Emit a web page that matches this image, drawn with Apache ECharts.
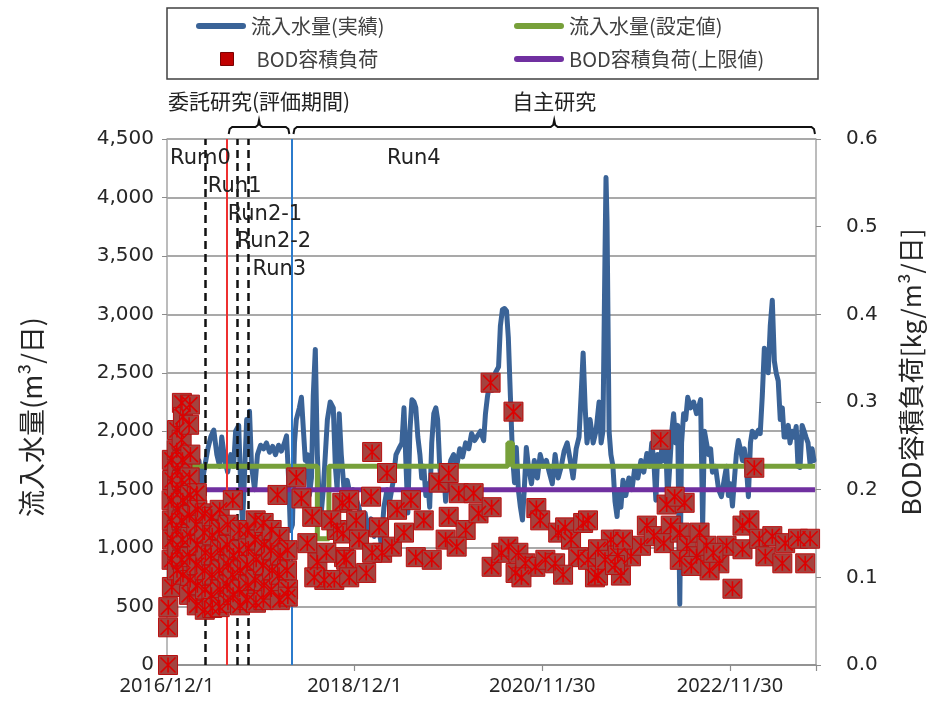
<!DOCTYPE html>
<html><head><meta charset="utf-8">
<script src="https://cdn.jsdelivr.net/npm/echarts@6/dist/echarts.min.js"></script>
<style>html,body{margin:0;padding:0;background:#fff}#c{width:932px;height:707px}</style>
</head><body><div id="c"></div>
<script>
// x values are days counted from 2016/12/1 (day 0)
const startDate = '2016/12/1';
const xTickLabels = ['2016/12/1', '2018/12/1', '2020/11/30', '2022/11/30'];
const xTickStep = 730;
const xMaxDay = 2525;
const leftAxisMax = 4500, leftAxisStep = 500;
const rightAxisMax = 0.6, rightAxisStep = 0.1;

const seriesNames = ['流入水量(実績)', '流入水量(設定値)', 'BOD容積負荷', 'BOD容積負荷(上限値)'];

// 流入水量(実績) [day, m3/day]
const flowActual = [
[112,1600],[124,1750],[136,1550],[147,1700],[159,1850],[170,1950],[182,2010],[194,1800],[205,1700],[213,1950],
[225,1750],[236,1650],[248,1800],[259,1700],[267,2000],[279,2050],[287,1500],[294,1200],[302,1650],[310,2100],
[318,1800],[321,2170],[329,1700],[341,1500],[352,1800],[364,1880],[376,1850],[387,1900],[399,1820],[411,1870],
[422,1800],[434,1880],[445,1830],[457,1900],[465,1960],[473,1600],[480,1150],[488,1200],[496,1900],[503,2100],
[515,2200],[523,2290],[531,2000],[538,1750],[546,1800],[554,1450],[562,1600],[569,2300],[577,2700],[585,1800],
[593,1350],[600,1300],[608,1500],[616,1800],[624,2100],[635,2250],[647,2200],[655,1700],[662,1500],[670,2150],
[678,1800],[689,1500],[701,1580],[713,1450],[724,1500],[736,1420],[747,1350],[759,1200],[771,1300],[782,1150],
[794,1250],[806,1100],[817,1200],[825,1150],[833,1040],[844,1350],[856,1500],[868,1420],[879,1560],[891,1800],
[902,1850],[914,1900],[922,2200],[930,1700],[937,1300],[945,2000],[953,2270],[961,2250],[968,2200],[976,1950],
[984,1800],[991,1600],[999,1700],[1007,1450],[1015,1550],[1022,1350],[1030,1900],[1038,2150],[1046,2200],[1053,2100],
[1061,1700],[1069,1500],[1077,1650],[1084,1400],[1092,1600],[1104,1750],[1115,1800],[1127,1700],[1139,1850],[1150,1780],
[1162,1900],[1174,1850],[1185,1980],[1197,1920],[1208,1960],[1220,2000],[1232,1920],[1239,2150],[1247,2300],[1255,2400],
[1266,2350],[1278,2500],[1290,2550],[1297,2900],[1305,3040],[1313,3050],[1321,3030],[1328,2800],[1336,2300],[1344,1800],
[1352,1560],[1359,1860],[1367,1500],[1375,1350],[1383,1240],[1390,1500],[1398,1860],[1406,1700],[1418,1550],[1429,1750],
[1441,1600],[1452,1800],[1464,1700],[1476,1750],[1487,1650],[1499,1550],[1510,1800],[1522,1600],[1534,1700],[1545,1830],
[1557,1900],[1569,1750],[1580,1600],[1592,1850],[1603,1950],[1611,2300],[1619,2670],[1627,2200],[1634,1900],[1646,2100],
[1658,1900],[1669,2000],[1681,2250],[1689,1900],[1696,2000],[1704,3500],[1708,4170],[1712,3800],[1720,2000],[1727,1800],
[1735,1700],[1743,1400],[1751,1270],[1758,1500],[1766,1350],[1774,1580],[1785,1450],[1797,1600],[1809,1500],[1820,1690],
[1832,1600],[1844,1750],[1855,1650],[1867,1810],[1878,1700],[1886,1900],[1894,1750],[1902,1410],[1909,1800],[1917,1700],
[1925,1850],[1933,1750],[1940,1900],[1948,1410],[1956,1700],[1964,2000],[1971,2150],[1979,1900],[1987,2050],[1995,520],
[2002,1900],[2010,2150],[2018,2100],[2026,2290],[2037,2200],[2049,2250],[2060,2150],[2068,2200],[2076,2270],[2084,1190],
[2091,2000],[2099,1900],[2107,1800],[2115,1850],[2122,1650],[2134,1700],[2146,1500],[2157,1440],[2169,1600],[2177,1700],
[2184,1450],[2192,1550],[2200,1360],[2208,1600],[2215,1800],[2223,1920],[2231,1850],[2239,1750],[2246,1850],[2254,1700],
[2262,1440],[2270,1900],[2277,2000],[2289,1950],[2301,2010],[2308,1980],[2316,2300],[2324,2710],[2332,2650],[2339,2500],
[2347,2900],[2355,3120],[2363,2600],[2370,2500],[2378,2430],[2386,2100],[2394,2200],[2401,1950],[2409,1950],[2417,2050],
[2424,1900],[2432,2000],[2440,1950],[2448,2040],[2455,1700],[2463,1690],[2471,2050],[2479,2000],[2486,1950],[2494,1900],
[2502,1720],[2510,1850],[2517,1750]
];

// 流入水量(設定値) [day, m3/day]
const flowSetting = [
[4,1000],[22,1000],[22,1300],[60,1300],[60,1700],[585,1700],[585,1080],[630,1080],[630,1700],
[1326,1700],[1326,1900],[1344,1900],[1344,1700],[2521,1700]
];

// BOD容積負荷(上限値) [day, kg/m3/day]
const bodLimit = [
[4,0.106],[35,0.106],[35,0.133],[60,0.133],[60,0.2],[2521,0.2]
];

// BOD容積負荷 [day, kg/m3/day]
const bodLoad = [
[4,0.000],[4,0.043],[5,0.066],
[19,0.089],[18,0.120],[20,0.143],[19,0.165],[18,0.188],[20,0.211],[19,0.234],
[39,0.268],[38,0.245],[40,0.222],[39,0.200],[41,0.177],[38,0.154],[40,0.131],[39,0.108],
[58,0.299],[62,0.283],[57,0.257],[60,0.234],[58,0.211],[61,0.188],[57,0.165],[60,0.143],[58,0.120],[62,0.103],
[89,0.297],[86,0.274],[91,0.240],[88,0.214],[90,0.194],[87,0.171],[91,0.146],[88,0.123],[90,0.097],[86,0.080],
[116,0.196],[118,0.177],[114,0.160],[117,0.137],[115,0.114],[118,0.091],[116,0.068],
[147,0.173],[145,0.151],[149,0.128],[146,0.108],[148,0.086],[147,0.063],
[174,0.169],[176,0.148],[172,0.125],[175,0.103],[173,0.080],[176,0.065],
[205,0.177],[203,0.154],[207,0.131],[204,0.108],[206,0.086],[205,0.066],
[236,0.160],[234,0.137],[238,0.114],[235,0.091],[237,0.071],
[256,0.188],[258,0.125],[255,0.103],[257,0.080],
[283,0.154],[281,0.131],[285,0.108],[282,0.086],[284,0.068],
[314,0.154],[316,0.133],[312,0.114],[315,0.091],[313,0.074],
[345,0.165],[343,0.143],[347,0.120],[344,0.097],[346,0.071],
[376,0.162],[378,0.137],[374,0.114],[377,0.091],[375,0.074],
[407,0.154],[405,0.131],[409,0.108],[406,0.086],
[438,0.146],[440,0.125],[436,0.103],[439,0.074],
[469,0.131],[467,0.108],[471,0.086],[470,0.078],
[430,0.194],
[503,0.214],[523,0.190],[565,0.169],[546,0.139],[585,0.117],[612,0.097],[662,0.154],[682,0.185],[651,0.097],[689,0.123],
[639,0.165],[620,0.128],[573,0.100],
[798,0.243],[856,0.219],[709,0.188],[794,0.192],[685,0.150],[747,0.143],[697,0.120],[709,0.100],[775,0.105],[825,0.157],
[837,0.128],[875,0.135],[895,0.177],[922,0.151],[949,0.188],[968,0.123],[999,0.165],[1030,0.120],[1057,0.208],[1096,0.219],
[1096,0.169],[1084,0.143],[1135,0.196],[1162,0.154],[1193,0.196],[1212,0.173],[1263,0.180],[1259,0.322],[1348,0.289],[1263,0.112],
[1301,0.128],[1328,0.135],[1367,0.128],[1356,0.105],[1394,0.116],[1437,0.179],[1452,0.165],[1433,0.112],[1379,0.100],[1472,0.120],
[1522,0.151],[1549,0.157],[1572,0.143],[1619,0.162],[1600,0.123],[1665,0.100],[1510,0.116],
[736,0.165],[798,0.128],[1127,0.135],[1541,0.103],[1638,0.120],
[1921,0.257],[2285,0.225],[1944,0.183],[2014,0.185],[1975,0.192],[1638,0.165],[1677,0.102],[1766,0.102],[1727,0.143],[1677,0.132],
[1805,0.124],[1844,0.136],[1867,0.159],[1894,0.147],[1960,0.159],[1933,0.139],[1995,0.151],[2022,0.136],[2072,0.151],[2060,0.124],
[2099,0.136],[2149,0.116],[2200,0.087],[2177,0.136],[2239,0.159],[2266,0.165],[2239,0.132],[2304,0.144],[2328,0.124],[2355,0.147],
[2394,0.116],[2405,0.139],[2455,0.144],[2483,0.116],[2502,0.144],[1704,0.120],[1754,0.125],[1774,0.143],[1743,0.114],
[2111,0.108],[2126,0.128],[1995,0.120],[2040,0.113]
];

// period boundaries (days)
const runDashedDays = [147, 272, 315];
const runRedDay = 231;
const runBlueDay = 485;
const runLabels = ['Rum0', 'Run1', 'Run2-1', 'Run2-2', 'Run3', 'Run4'];
const periodLabels = ['委託研究(評価期間)', '自主研究'];
const periodRanges = [[240, 476], [492, 2521]];

// ---- layout (not data) ----
const runLabelAnchors = [[12, 4337], [159, 4089], [236, 3850], [271, 3619], [333, 3379], [856, 4337]];

const C = { blue: '#3a6397', green: '#77a03a', purple: '#7030a0', red: '#c00000' };
const lineIcon = 'path://M3,0H47A3,3 0 0 1 47,6H3A3,3 0 0 1 3,0Z';
const legendText = { fontSize: 20, color: '#404040', fontFamily: 'Noto Sans CJK JP' };
const grayAxis = '#8c8c8c';

const chart = echarts.init(document.getElementById('c'), null, { renderer: 'canvas' });

function mkLegend(name, left, top, icon, extra) {
  return Object.assign({
    data: [{ name: name, icon: icon }], left: left, top: top, padding: 0,
    itemWidth: 50, itemHeight: 6, itemGap: 0, textStyle: legendText,
    selectedMode: false
  }, extra || {});
}

const option = {
  animation: false,
  backgroundColor: '#fff',
  grid: { left: 167, right: 113, top: 139, bottom: 42 },
  legend: [
    mkLegend(seriesNames[0], 196, 16, lineIcon),
    mkLegend(seriesNames[1], 514, 16, lineIcon),
    mkLegend(seriesNames[2], 220, 49, 'rect', { itemWidth: 13, itemHeight: 13,
      textStyle: Object.assign({}, legendText, { padding: [0, 0, 0, 18] }),
      data: [{ name: seriesNames[2], icon: 'rect', itemStyle: { color: '#c00000', borderColor: '#7a0000', borderWidth: 1 } }] }),
    mkLegend(seriesNames[3], 514, 49, lineIcon)
  ],
  xAxis: {
    type: 'value', min: 0, max: xMaxDay, interval: xTickStep,
    splitLine: { show: false },
    axisLine: { show: true, lineStyle: { color: grayAxis, width: 1.5 } },
    axisTick: { show: true, length: 6, lineStyle: { color: grayAxis, width: 1.2 } },
    axisLabel: {
      formatter: v => (v % xTickStep === 0 ? xTickLabels[v / xTickStep] : ''),
      fontSize: 20, fontFamily: 'Noto Sans', color: '#262626', margin: 11
    }
  },
  yAxis: [
    {
      type: 'value', min: 0, max: leftAxisMax, interval: leftAxisStep, position: 'left',
      name: '流入水量(m³/日)', nameLocation: 'middle', nameRotate: 90, nameGap: 122,
      nameTextStyle: { fontSize: 27, fontFamily: 'Noto Sans CJK JP', color: '#262626', padding: [0, 30, 0, 0] },
      axisLine: { show: true, lineStyle: { color: '#a6a6a6', width: 1.5 } },
      axisTick: { show: true, length: 5, lineStyle: { color: grayAxis } },
      axisLabel: { formatter: v => v.toLocaleString('en-US'), fontSize: 20, fontFamily: 'DejaVu Sans', color: '#262626', margin: 13 },
      splitLine: { show: true, lineStyle: { color: grayAxis, width: 1.5 } }
    },
    {
      type: 'value', min: 0, max: rightAxisMax, interval: rightAxisStep, position: 'right',
      name: 'BOD容積負荷[kg/m³/日]', nameLocation: 'middle', nameRotate: 90, nameGap: 82,
      nameTextStyle: { fontSize: 26, fontFamily: 'Noto Sans CJK JP', color: '#262626', padding: [0, 0, 0, 60] },
      axisLine: { show: true, lineStyle: { color: '#a6a6a6', width: 1.5 } },
      axisTick: { show: true, length: 5, lineStyle: { color: grayAxis } },
      axisLabel: { formatter: v => v.toFixed(1), fontSize: 20, fontFamily: 'DejaVu Sans', color: '#262626', margin: 30 },
      splitLine: { show: false }
    }
  ],
  series: [
    {
      name: seriesNames[0], type: 'line', yAxisIndex: 0, data: flowActual, showSymbol: false, color: C.blue,
      lineStyle: { width: 5, color: C.blue, join: 'round', cap: 'round' }, z: 2,
      markLine: {
        symbol: 'none', silent: true, label: { show: false }, animation: false,
        data: runDashedDays.map(d => ({ xAxis: d, lineStyle: { type: [8, 5], color: '#111', width: 2.5 } }))
          .concat([{ xAxis: runRedDay, lineStyle: { type: 'solid', color: '#ee3030', width: 2 } },
                   { xAxis: runBlueDay, lineStyle: { type: 'solid', color: '#2b7bcc', width: 2 } }])
      }
    },
    { name: seriesNames[1], type: 'line', yAxisIndex: 0, data: flowSetting, showSymbol: false, color: C.green,
      lineStyle: { width: 5, color: C.green }, z: 3 },
    { name: seriesNames[3], type: 'line', yAxisIndex: 1, data: bodLimit, showSymbol: false, color: C.purple,
      lineStyle: { width: 5, color: C.purple }, z: 4 },
    { name: seriesNames[2], type: 'scatter', yAxisIndex: 1, data: bodLoad, symbol: 'rect', symbolSize: 19,
      itemStyle: { color: '#a4433f', borderColor: '#b81010', borderWidth: 1, opacity: 1 }, z: 5 },
    { name: 'bodCross', type: 'scatter', yAxisIndex: 1, data: bodLoad, symbol: 'path://M0,0L10,10M10,0L0,10M5,0L5,10',
      symbolSize: 15, itemStyle: { color: 'rgba(0,0,0,0)', borderColor: '#dd0000', borderWidth: 1.6, opacity: 1 }, z: 6, silent: true }
  ]
};
chart.setOption(option);

// annotations positioned from data coordinates
const px = (d, v) => chart.convertToPixel({ xAxisIndex: 0, yAxisIndex: 0 }, [d, v]);
const gTop = px(0, leftAxisMax)[1];
const graphics = [];
graphics.push({ type: 'rect', shape: { x: 167, y: 8, width: 651, height: 71 },
  style: { fill: 'none', stroke: '#404040', lineWidth: 1.5 }, z: 10 });
runLabels.forEach((t, i) => {
  const p = px(runLabelAnchors[i][0], runLabelAnchors[i][1]);
  graphics.push({ type: 'text', x: p[0], y: p[1], z: 10,
    style: { text: t, fill: '#222', font: '21px "DejaVu Sans"', textAlign: 'left', textVerticalAlign: 'middle' } });
});
periodRanges.forEach((r, i) => {
  const x1 = px(r[0], 0)[0], x2 = px(r[1], 0)[0], xm = (x1 + x2) / 2;
  const yh = gTop - 12, ye = gTop - 5, yt = gTop - 19;
  graphics.push({ type: 'polyline', z: 10,
    shape: { points: [[x1, ye], [x1 + 1, yh + 2], [x1 + 3.5, yh], [xm - 3.5, yh], [xm - 1, yh - 2], [xm, yt],
                      [xm + 1, yh - 2], [xm + 3.5, yh], [x2 - 3.5, yh], [x2 - 1, yh + 2], [x2, ye]] },
    style: { stroke: '#111', lineWidth: 2, fill: 'none' } });
  graphics.push({ type: 'text', x: xm, y: gTop - 38, z: 10,
    style: { text: periodLabels[i], fill: '#222', font: '21px "Noto Sans CJK JP"', textAlign: 'center', textVerticalAlign: 'middle' } });
});
chart.setOption({ graphic: graphics });
</script>
</body></html>
